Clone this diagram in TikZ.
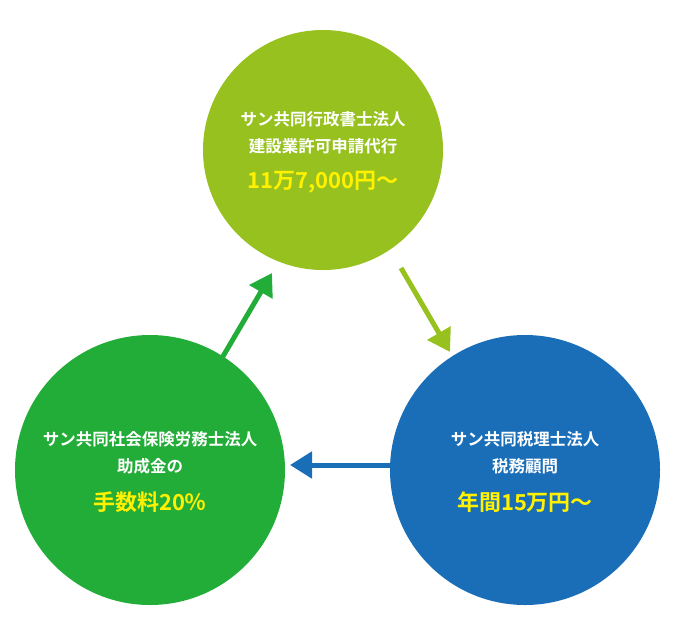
\documentclass[tikz,border=0pt]{standalone}
\usepackage{fontspec}
\newfontfamily\cjk{Noto Sans CJK JP}[BoldFont={Noto Sans CJK JP Bold}]
\usetikzlibrary{arrows.meta}
\definecolor{topgreen}{RGB}{150,193,30}
\definecolor{leftgreen}{RGB}{34,172,56}
\definecolor{rightblue}{RGB}{26,110,184}
\definecolor{priceyellow}{RGB}{255,241,0}
\tikzset{every picture/.style={line width=0.75pt}}
\tikzset{circ/.style={circle,inner sep=0pt},
  title/.style={text=white,font=\cjk\bfseries\fontsize{16.5}{27}\selectfont,align=center},
  price/.style={text=priceyellow,font=\cjk\bfseries\fontsize{22}{26}\selectfont},
  flow/.style={line width=5pt,-{Triangle[length=22pt,width=26pt]}}}

\begin{document}
\begin{tikzpicture}[x=1pt,y=1pt,yscale=-1,xscale=1]
\useasboundingbox (0,0) rectangle (674,622);

% Circles
\node [circ,fill=topgreen,minimum size=240pt] (top) at (323,150) {};
\node [circ,fill=leftgreen,minimum size=270pt] (left) at (150,470) {};
\node [circ,fill=rightblue,minimum size=270pt] (right) at (525,470) {};

% Arrow ends
\coordinate (t1) at (401,268);
\coordinate (t2) at (450,352);
\coordinate (r1) at (391,465);
\coordinate (r2) at (290,465);
\coordinate (l1) at (222,358);
\coordinate (l2) at (272,273);

\draw [flow,draw=topgreen,fill=topgreen] (t1) -- (t2);
\draw [flow,draw=rightblue,fill=rightblue] (r1) -- (r2);
\draw [flow,draw=leftgreen,fill=leftgreen] (l1) -- (l2);

% Text Node
\node [title] (toptext) at (323,133) {サン共同行政書士法人\\建設業許可申請代行};
\node [price] (topprice) at (323,182) {11万7,000円～};
% Text Node
\node [title] (lefttext) at (150,453) {サン共同社会保険労務士法人\\助成金の};
\node [price] (leftprice) at (150,502) {手数料20％};
% Text Node
\node [title] (righttext) at (525,453) {サン共同税理士法人\\税務顧問};
\node [price] (rightprice) at (525,502) {年間15万円～};

\end{tikzpicture}
\end{document}
